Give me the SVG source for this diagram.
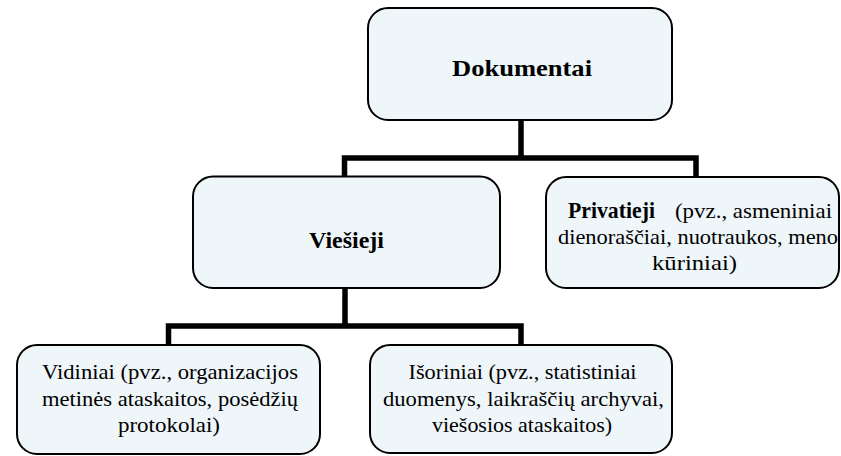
<svg xmlns="http://www.w3.org/2000/svg" width="841" height="456" viewBox="0 0 841 456">
<style>
.box{fill:#EFF6F9;stroke:#000;stroke-width:2}
text{font-family:'Liberation Serif','Times New Roman','DejaVu Serif',serif;font-size:21px;fill:#000}
.b{font-weight:bold;font-size:23px}
.c{text-anchor:middle}
.conn{fill:none;stroke:#000;stroke-width:5.5;stroke-linejoin:miter;stroke-linecap:butt}
</style>
<rect width="841" height="456" fill="#fff"/>
<g id="connectors">
<path class="conn" d="M521,120 V158"/>
<path class="conn" d="M344.5,177 V158 H696 V177"/>
<path class="conn" d="M345,288 V326"/>
<path class="conn" d="M168.5,345 V326 H521 V345"/>
</g>
<g id="dokumentai">
<rect class="box" x="368" y="8" width="304" height="112" rx="20"/>
<text class="b c" x="522" y="75.5" textLength="140" lengthAdjust="spacingAndGlyphs">Dokumentai</text>
</g>
<g id="viesieji">
<rect class="box" x="193" y="176.5" width="307" height="111.5" rx="20"/>
<text class="b c" x="346.5" y="248" textLength="75" lengthAdjust="spacingAndGlyphs">Viešieji</text>
</g>
<g id="privatieji">
<rect class="box" x="546" y="177" width="293" height="111" rx="20"/>
<text class="b" x="568" y="217.5" textLength="87" lengthAdjust="spacingAndGlyphs">Privatieji</text>
<text x="675" y="217.5" textLength="157" lengthAdjust="spacingAndGlyphs">(pvz., asmeniniai</text>
<text x="558" y="244" textLength="280" lengthAdjust="spacingAndGlyphs">dienoraščiai, nuotraukos, meno</text>
<text class="c" x="694.5" y="269.5" textLength="85" lengthAdjust="spacingAndGlyphs">kūriniai)</text>
</g>
<g id="vidiniai">
<rect class="box" x="17" y="345" width="303" height="109" rx="20"/>
<text class="c" x="170" y="379" textLength="256" lengthAdjust="spacingAndGlyphs">Vidiniai (pvz., organizacijos</text>
<text class="c" x="170" y="406" textLength="256" lengthAdjust="spacingAndGlyphs">metinės ataskaitos, posėdžių</text>
<text class="c" x="169" y="432" textLength="102" lengthAdjust="spacingAndGlyphs">protokolai)</text>
</g>
<g id="isoriniai">
<rect class="box" x="370" y="345" width="302" height="108" rx="20"/>
<text class="c" x="522.5" y="379" textLength="228" lengthAdjust="spacingAndGlyphs">Išoriniai (pvz., statistiniai</text>
<text class="c" x="523.5" y="406" textLength="281" lengthAdjust="spacingAndGlyphs">duomenys, laikraščių archyvai,</text>
<text class="c" x="522" y="432" textLength="180" lengthAdjust="spacingAndGlyphs">viešosios ataskaitos)</text>
</g>
</svg>
